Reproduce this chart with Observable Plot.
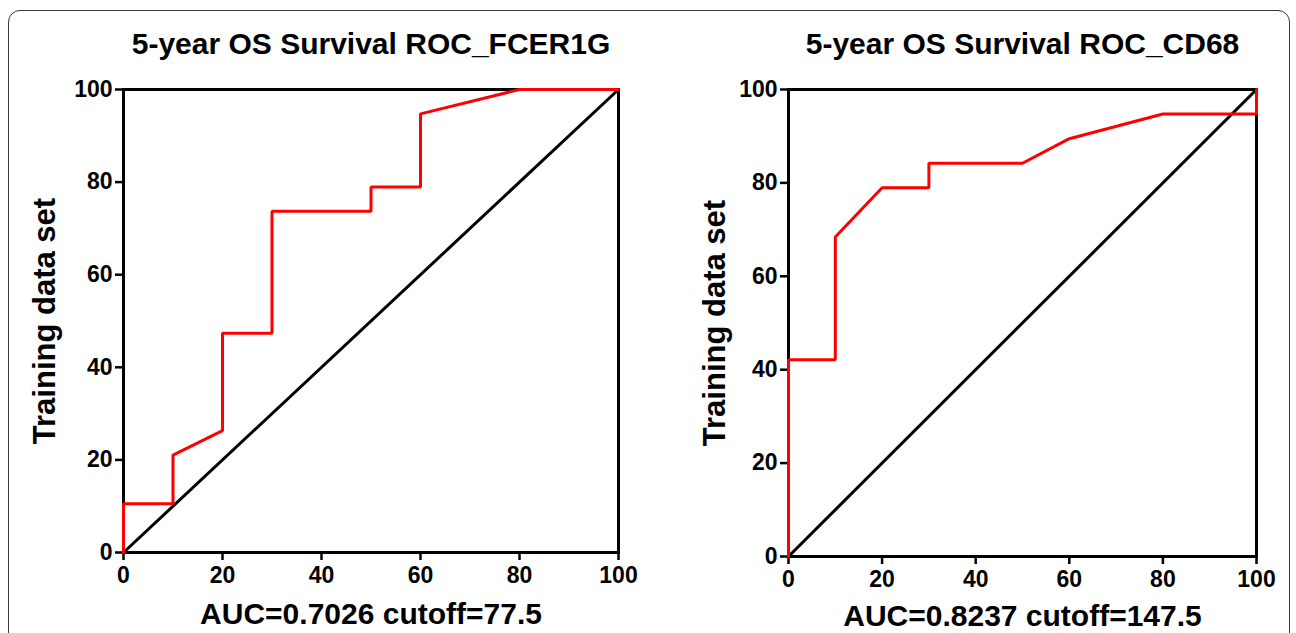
<!DOCTYPE html>
<html>
<head>
<meta charset="utf-8">
<script src="https://cdn.jsdelivr.net/npm/d3@7"></script>
<script src="https://cdn.jsdelivr.net/npm/@observablehq/plot@0.6"></script>
<style>
  html, body { margin: 0; padding: 0; background: #fff; }
  #wrap { position: relative; width: 1296px; height: 633px; overflow: hidden; background: #fff; }
  #border { position: absolute; left: 8px; top: 10px; width: 1280px; height: 700px;
            border: 1.5px solid #3a3a3a; border-radius: 12px; }
  .panel { position: absolute; top: 0; }
  .panel svg { font-family: "Liberation Sans", Arial, sans-serif; font-weight: bold; }
</style>
</head>
<body>
<div id="wrap"><div id="border"></div></div>
<script>
// ---- data ----
const ticks = [0, 20, 40, 60, 80, 100];
const titles = ["5-year OS Survival ROC_FCER1G", "5-year OS Survival ROC_CD68"];
const yLabel = "Training data set";
const xLabels = ["AUC=0.7026 cutoff=77.5", "AUC=0.8237 cutoff=147.5"];
const fcerX = [0, 0, 10, 10, 20, 20, 30, 30, 50, 50, 60, 60, 80, 100];
const fcerY = [0, 10.53, 10.53, 21.05, 26.32, 47.37, 47.37, 73.68, 73.68, 78.95, 78.95, 94.74, 100, 100];
const cd68X = [0, 0, 10, 10, 20, 30, 30, 50, 60, 80, 100, 100];
const cd68Y = [0, 42.11, 42.11, 68.42, 78.95, 78.95, 84.21, 84.21, 89.47, 94.74, 94.74, 100];
const diagX = [0, 100];
const diagY = [0, 100];

function panel(xs, ys, title, xlab, geom) {
  const curve = xs.map((x, i) => ({x, y: ys[i]}));
  const diag = diagX.map((x, i) => ({x, y: diagY[i]}));
  return Plot.plot({
    width: 648, height: 633,
    marginLeft: geom.ml, marginRight: geom.mr, marginTop: geom.mt, marginBottom: geom.mb,
    x: {domain: [0, 100]},
    y: {domain: [0, 100]},
    marks: [
      Plot.frame({stroke: "black", strokeWidth: 3}),
      Plot.axisX({ticks, tickSize: 8, tickPadding: 6, strokeWidth: 2.5, fontSize: 23, label: null, tickFormat: d => d}),
      Plot.axisY({ticks, tickSize: 8, tickPadding: 3, strokeWidth: 2.5, fontSize: 23, label: null, tickFormat: d => d}),
      Plot.line(diag, {x: "x", y: "y", stroke: "black", strokeWidth: 3}),
      Plot.line(curve, {x: "x", y: "y", stroke: "#ff0000", strokeWidth: 3, strokeLinejoin: "miter"}),
      Plot.text([title], {frameAnchor: "top", text: d => d, dy: -45, lineAnchor: "middle", fontSize: 30, fill: "black"}),
      Plot.text([xlab], {frameAnchor: "bottom", text: d => d, dy: geom.xl, lineAnchor: "middle", fontSize: 30, fill: "black"}),
      Plot.text([yLabel], {frameAnchor: "left", text: d => d, dx: geom.yl, rotate: -90, textAnchor: "middle", lineAnchor: "middle", fontSize: 31, fill: "black"})
    ]
  });
}

const wrap = document.getElementById("wrap");
const p1 = panel(fcerX, fcerY, titles[0], xLabels[0], {ml: 123, mr: 30, mt: 89, mb: 81, xl: 62, yl: -78});
const p2 = panel(cd68X, cd68Y, titles[1], xLabels[1], {ml: 140, mr: 40, mt: 89, mb: 77, xl: 60, yl: -73});
const d1 = document.createElement("div"); d1.className = "panel"; d1.style.left = "0px"; d1.appendChild(p1);
const d2 = document.createElement("div"); d2.className = "panel"; d2.style.left = "648px"; d2.appendChild(p2);
wrap.appendChild(d1); wrap.appendChild(d2);
</script>
</body>
</html>
